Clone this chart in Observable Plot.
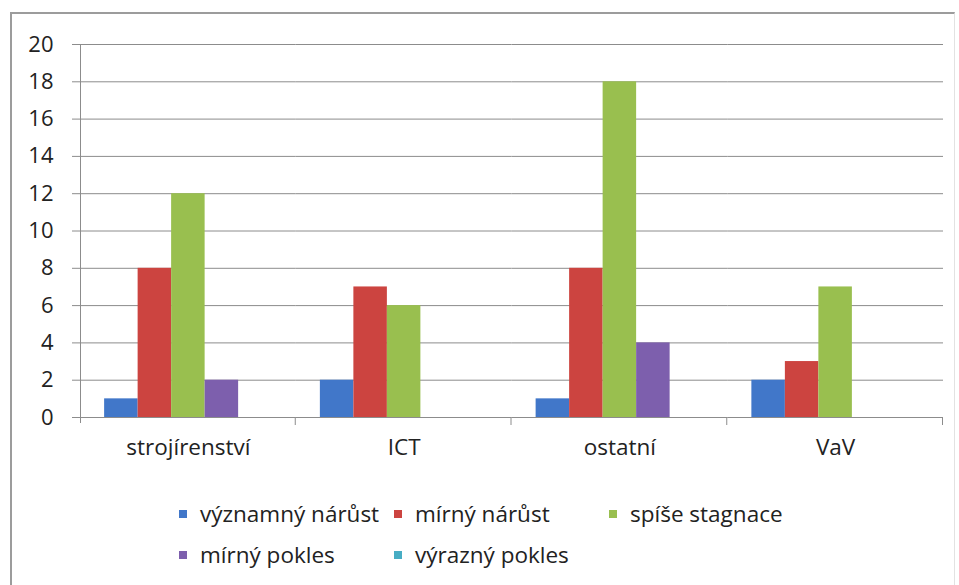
<!DOCTYPE html>
<html>
<head>
<meta charset="utf-8">
<script src="https://cdn.jsdelivr.net/npm/d3@7"></script>
<script src="https://cdn.jsdelivr.net/npm/@observablehq/plot@0.6"></script>
<style>
  body { margin: 0; background: #fff; }
  #wrap { position: relative; width: 959px; height: 585px; overflow: hidden; font-family: "Open Sans", sans-serif; color: #222; }
  #border { position: absolute; left: 10px; top: 12px; width: 942px; height: 600px;
            border-top: 2px solid #9c9c9c; border-left: 2px solid #9c9c9c; border-right: 1px solid #e2e2e2; }
  #chart { position: absolute; left: 0; top: 0; }
  #legend { position: absolute; left: 179px; top: 493px; display: grid;
            grid-template-columns: 215px 215px 215px; grid-auto-rows: 41px; }
  .item { display: flex; align-items: center; font-size: 22.5px; line-height: 41px; white-space: nowrap; }
  .sw { width: 8px; height: 8px; margin-right: 13px; flex: none; }
</style>
</head>
<body>
<div id="wrap">
  <div id="border"></div>
  <div id="chart"></div>
  <div id="legend"></div>
</div>
<script>
const categories = ["strojírenství", "ICT", "ostatní", "VaV"];
const series = ["významný nárůst", "mírný nárůst", "spíše stagnace", "mírný pokles", "výrazný pokles"];
const vyznamnyNarust = [1, 2, 1, 2];
const mirnyNarust    = [8, 7, 8, 3];
const spiseStagnace  = [12, 6, 18, 7];
const mirnyPokles    = [2, 0, 4, 0];
const vyraznyPokles  = [0, 0, 0, 0];
const yTicks = [0, 2, 4, 6, 8, 10, 12, 14, 16, 18, 20];
const colors = ["#4177c9", "#cc4440", "#99bf4f", "#7d5fad", "#47adc4"];

const seriesValues = [vyznamnyNarust, mirnyNarust, spiseStagnace, mirnyPokles, vyraznyPokles];
const rows = categories.flatMap((c, i) =>
  seriesValues.map((vals, j) => ({cat: c, series: series[j], value: vals[i]})));

const gridColor = "#8c8c8c";

const chart = Plot.plot({
  width: 959,
  height: 470,
  marginLeft: 80,
  marginRight: 16,
  marginTop: 44,
  marginBottom: 53,
  style: {fontFamily: "Open Sans, sans-serif", fontSize: "22px", color: "#222", background: "transparent", overflow: "visible"},
  fx: {domain: categories, padding: 0, round: false, label: null, axis: null},
  x: {domain: series, paddingInner: 0, paddingOuter: 0.72, round: false, axis: null},
  y: {domain: [0, 20], axis: null, label: null},
  color: {domain: series, range: colors},
  marks: [
    Plot.gridY(yTicks, {stroke: gridColor, strokeOpacity: 1, strokeWidth: 1}),
    Plot.barY(rows, {fx: "cat", x: "series", y: "value", fill: "series"}),
    Plot.axisY(yTicks, {tickSize: 8, tickPadding: 19, stroke: gridColor, strokeOpacity: 1, label: null, fontSize: 22, fill: "#222"}),
    Plot.axisFx({anchor: "bottom", tickSize: 0, tickPadding: 22, label: null, fontSize: 22.5, fill: "#222"})
  ]
});

document.getElementById("chart").appendChild(chart);

// y-axis line and category boundary ticks, positioned with the plot's own scales
const fx = chart.scale("fx");
const y = chart.scale("y");
const svg = d3.select(chart);
const y0 = y.apply(0), yTop = y.apply(20);
const left = fx.apply(categories[0]);
const g = svg.append("g").attr("stroke", gridColor).attr("stroke-width", 1);
g.append("line").attr("x1", left + 0.5).attr("x2", left + 0.5).attr("y1", yTop).attr("y2", y0 + 6);
categories.forEach(c => {
  const xr = fx.apply(c) + fx.bandwidth;
  g.append("line").attr("x1", xr - 0.5).attr("x2", xr - 0.5).attr("y1", y0).attr("y2", y0 + 8);
});

// legend
const legend = d3.select("#legend");
series.forEach((s, i) => {
  const it = legend.append("div").attr("class", "item");
  it.append("span").attr("class", "sw").style("background", colors[i]);
  it.append("span").text(s);
});
</script>
</body>
</html>
